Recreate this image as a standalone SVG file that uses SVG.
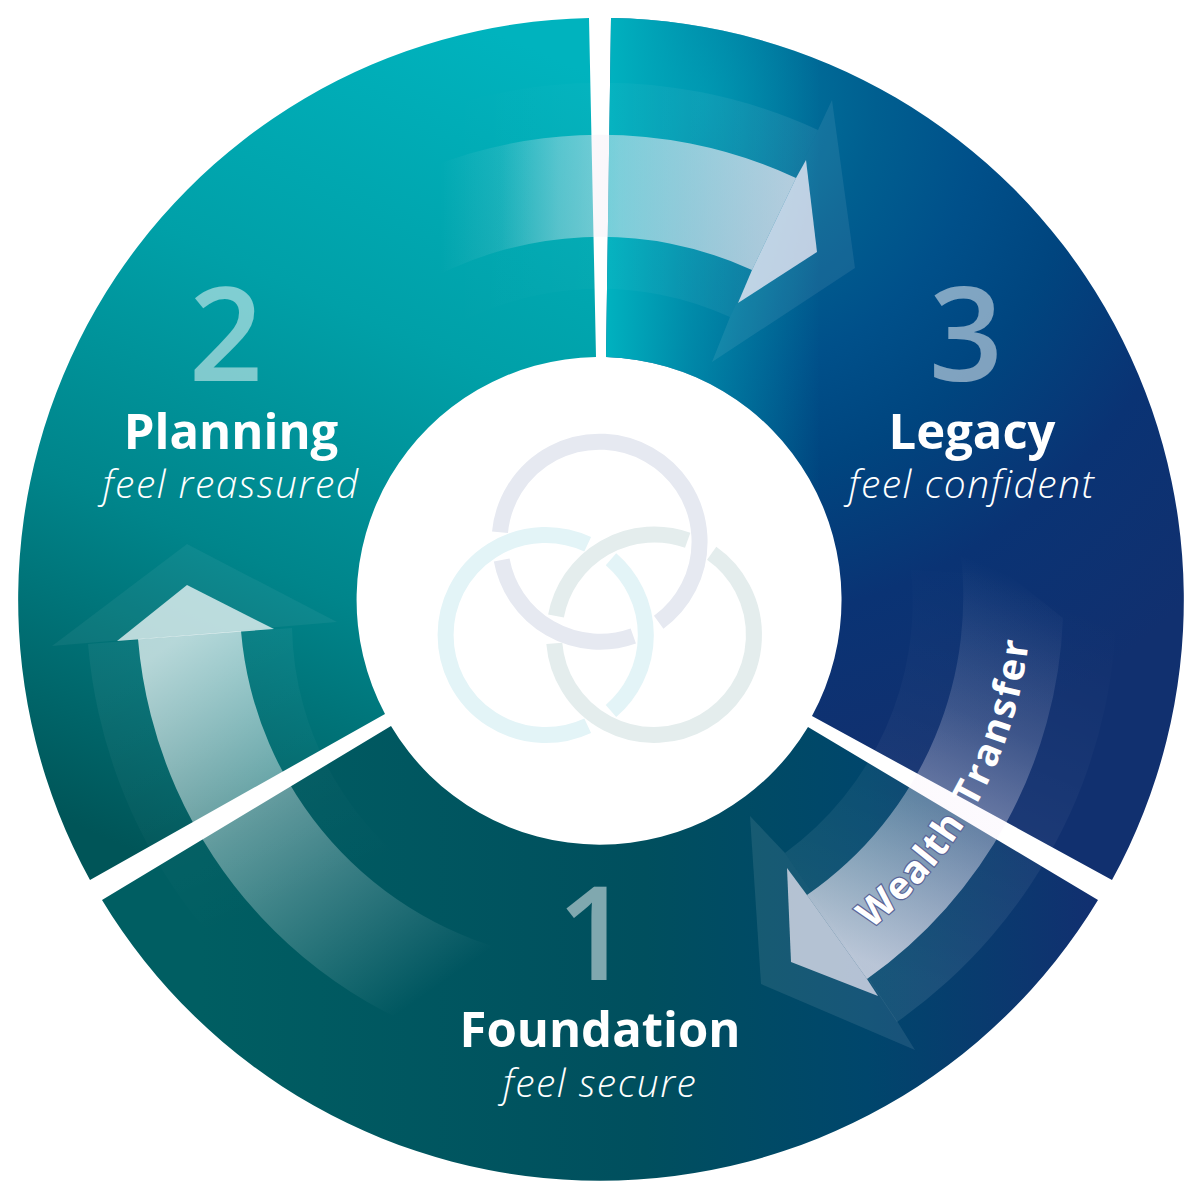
<svg xmlns="http://www.w3.org/2000/svg" xmlns:xlink="http://www.w3.org/1999/xlink" width="1200" height="1200" viewBox="0 0 1200 1200">
<style>
.num{font-family:"Open Sans","Liberation Sans",sans-serif;font-weight:600;font-size:130px;fill:#fff;fill-opacity:.5;text-anchor:middle}
.t{font-family:"Open Sans","Liberation Sans",sans-serif;font-weight:700;font-size:49px;fill:#fff;text-anchor:middle}
.s{font-family:"Open Sans","Liberation Sans",sans-serif;font-weight:300;font-style:italic;font-size:39px;letter-spacing:1.500px;fill:#fff;text-anchor:middle}
.w{font-family:"Open Sans","Liberation Sans",sans-serif;font-weight:700;font-size:38px;letter-spacing:1.300px;fill:#fff}
.o{stroke:#5a6598;stroke-width:2.500px;paint-order:stroke}
.ring{fill:none;stroke-width:16}
</style>
<defs>
<linearGradient id="g2" gradientUnits="userSpaceOnUse" x1="560" y1="60" x2="200" y2="880"><stop offset="0" stop-color="#00b3be"/><stop offset=".35" stop-color="#00a0a8"/><stop offset=".65" stop-color="#00858b"/><stop offset="1" stop-color="#005558"/></linearGradient>
<radialGradient id="g3" gradientUnits="userSpaceOnUse" cx="700" cy="100" r="700"><stop offset="0" stop-color="#0080a5"/><stop offset=".25" stop-color="#005f90"/><stop offset=".4" stop-color="#00508a"/><stop offset=".55" stop-color="#00457f"/><stop offset=".75" stop-color="#0a3374"/><stop offset="1" stop-color="#11306f"/></radialGradient>
<linearGradient id="g3t" gradientUnits="userSpaceOnUse" x1="600" y1="0" x2="820" y2="0"><stop offset="0" stop-color="#00b5c1"/><stop offset=".4" stop-color="#00b5c1" stop-opacity=".55"/><stop offset="1" stop-color="#00b5c1" stop-opacity="0"/></linearGradient>
<linearGradient id="g1" gradientUnits="userSpaceOnUse" x1="200" y1="900" x2="1090" y2="900"><stop offset="0" stop-color="#005e62"/><stop offset=".5" stop-color="#004f5e"/><stop offset=".75" stop-color="#00466c"/><stop offset="1" stop-color="#113070"/></linearGradient>
<linearGradient id="topIn" gradientUnits="userSpaceOnUse" x1="440" y1="0" x2="800" y2="0"><stop offset="0" stop-color="#f4eef6" stop-opacity="0"/><stop offset=".17" stop-color="#f4eef6" stop-opacity=".1"/><stop offset=".33" stop-color="#f4eef6" stop-opacity=".35"/><stop offset=".5" stop-color="#f4eef6" stop-opacity=".5"/><stop offset="1" stop-color="#f4eef6" stop-opacity=".72"/></linearGradient>
<linearGradient id="topOut" gradientUnits="userSpaceOnUse" x1="450" y1="0" x2="820" y2="0"><stop offset="0" stop-color="#fff" stop-opacity="0"/><stop offset=".4" stop-color="#fff" stop-opacity=".02"/><stop offset="1" stop-color="#fff" stop-opacity=".08"/></linearGradient>
<linearGradient id="leftIn" gradientUnits="userSpaceOnUse" x1="190" y1="630" x2="440" y2="985"><stop offset="0" stop-color="#fff" stop-opacity=".7"/><stop offset=".45" stop-color="#fff" stop-opacity=".36"/><stop offset="1" stop-color="#fff" stop-opacity="0"/></linearGradient>
<linearGradient id="leftOut" gradientUnits="userSpaceOnUse" x1="190" y1="640" x2="300" y2="900"><stop offset="0" stop-color="#fff" stop-opacity=".05"/><stop offset="1" stop-color="#fff" stop-opacity="0"/></linearGradient>
<linearGradient id="rightIn" gradientUnits="userSpaceOnUse" x1="1000" y1="570" x2="840" y2="950"><stop offset="0" stop-color="#f8f0fb" stop-opacity="0"/><stop offset=".35" stop-color="#f8f0fb" stop-opacity=".17"/><stop offset=".62" stop-color="#f8f0fb" stop-opacity=".38"/><stop offset="1" stop-color="#f8f0fb" stop-opacity=".72"/></linearGradient>
<linearGradient id="rightOut" gradientUnits="userSpaceOnUse" x1="1000" y1="570" x2="840" y2="950"><stop offset="0" stop-color="#fff" stop-opacity="0"/><stop offset=".4" stop-color="#fff" stop-opacity=".03"/><stop offset="1" stop-color="#fff" stop-opacity=".09"/></linearGradient>
<path id="wt" d="M871 929 A426 426 0 0 0 1030 570"/>
<path id="s3" d="M611 18 A582 582 0 0 1 1112 880 L812 716 A243 243 0 0 0 606 357Z"/>
</defs>
<g id="node-planning">
<path fill="url(#g2)" d="M589 18 A582 582 0 0 0 90 880 L385 714 A243 243 0 0 1 596 357Z"/>
</g>
<g id="node-legacy">
<use href="#s3" fill="url(#g3)"/>
<use href="#s3" fill="url(#g3t)"/>
</g>
<g id="node-foundation">
<path fill="url(#g1)" d="M102 900 A582 582 0 0 0 1098 900 L808 727 A243 243 0 0 1 391 726Z"/>
</g>
<g id="connectors">
<path fill="url(#topOut)" d="M342 153 A516 516 0 0 1 818 130 L730 317 A311 311 0 0 0 444.500 330.700Z"/>
<path fill="#fff" fill-opacity=".08" d="M832 100 L855 268 L712 362 L730 317 L818 130Z"/>
<path fill="url(#topIn)" d="M367.500 197.300 A465 465 0 0 1 796 178 L752 270 A363 363 0 0 0 418.500 285.600Z"/>
<path fill="#f8f0fb" fill-opacity=".75" d="M806 160 L817 252 L738 303 L752 270 L796 178Z"/>
<path fill="url(#leftOut)" d="M88 644 A516 516 0 0 0 400 1075 L440 887 A311 311 0 0 1 292 628Z"/>
<path fill="#fff" fill-opacity=".05" d="M187 544 L337 622 L52 646Z"/>
<path fill="url(#leftIn)" d="M138 639 A465 465 0 0 0 530 1059.700 L530 956 A363 363 0 0 1 241 631Z"/>
<path fill="#fff" fill-opacity=".72" d="M187 585 L274 629 L117 641Z"/>
<path fill="url(#rightOut)" d="M1116 580 A516 516 0 0 1 897 1022 L785 853 A311 311 0 0 0 911 570Z"/>
<path fill="#fff" fill-opacity=".09" d="M750 816 L761 984 L915 1050 L897 1021 L785 853Z"/>
<path fill="url(#rightIn)" d="M1063 618 A465 465 0 0 1 867 979 L807 895 A363 363 0 0 0 958 535Z"/>
<path fill="#f8f0fb" fill-opacity=".7" d="M787 868 L791 962 L878 996 L867 979 L807 895Z"/>
<text class="w"><textPath xlink:href="#wt" href="#wt"><tspan class="o">Wealth</tspan> <tspan dx="5" letter-spacing="2.400">Transfer</tspan></textPath></text>
</g>
<g id="node-rings">
<path class="ring" stroke="#e6e9f1" d="M500 532.300 A100 100 0 1 1 658.700 622.300"/>
<path class="ring" stroke="#e6e9f1" d="M501.700 560 A100 100 0 0 0 633.300 636"/>
<path class="ring" stroke="#e3f4f7" d="M587.700 544.300 A100 100 0 1 0 587.700 725.700"/>
<path class="ring" stroke="#e3f4f7" d="M611 559.300 A100 100 0 0 1 611 711"/>
<path class="ring" stroke="#e4eded" d="M687.700 540.300 A100 100 0 0 0 556 616"/>
<path class="ring" stroke="#e4eded" d="M711.700 553.300 A100 100 0 1 1 554.300 643.300"/>
</g>
<g id="labels-planning">
<text class="num" x="226" y="381">2</text>
<text class="t" x="231" y="449">Planning</text>
<text class="s" x="231" y="498">feel reassured</text>
</g>
<g id="labels-legacy">
<text class="num" x="966" y="381">3</text>
<text class="t" x="972" y="449">Legacy</text>
<text class="s" x="972" y="498">feel confident</text>
</g>
<g id="labels-foundation">
<text class="num" x="594" y="980">1</text>
<text class="t" x="600" y="1047">Foundation</text>
<text class="s" x="600" y="1097">feel secure</text>
</g>
</svg>
